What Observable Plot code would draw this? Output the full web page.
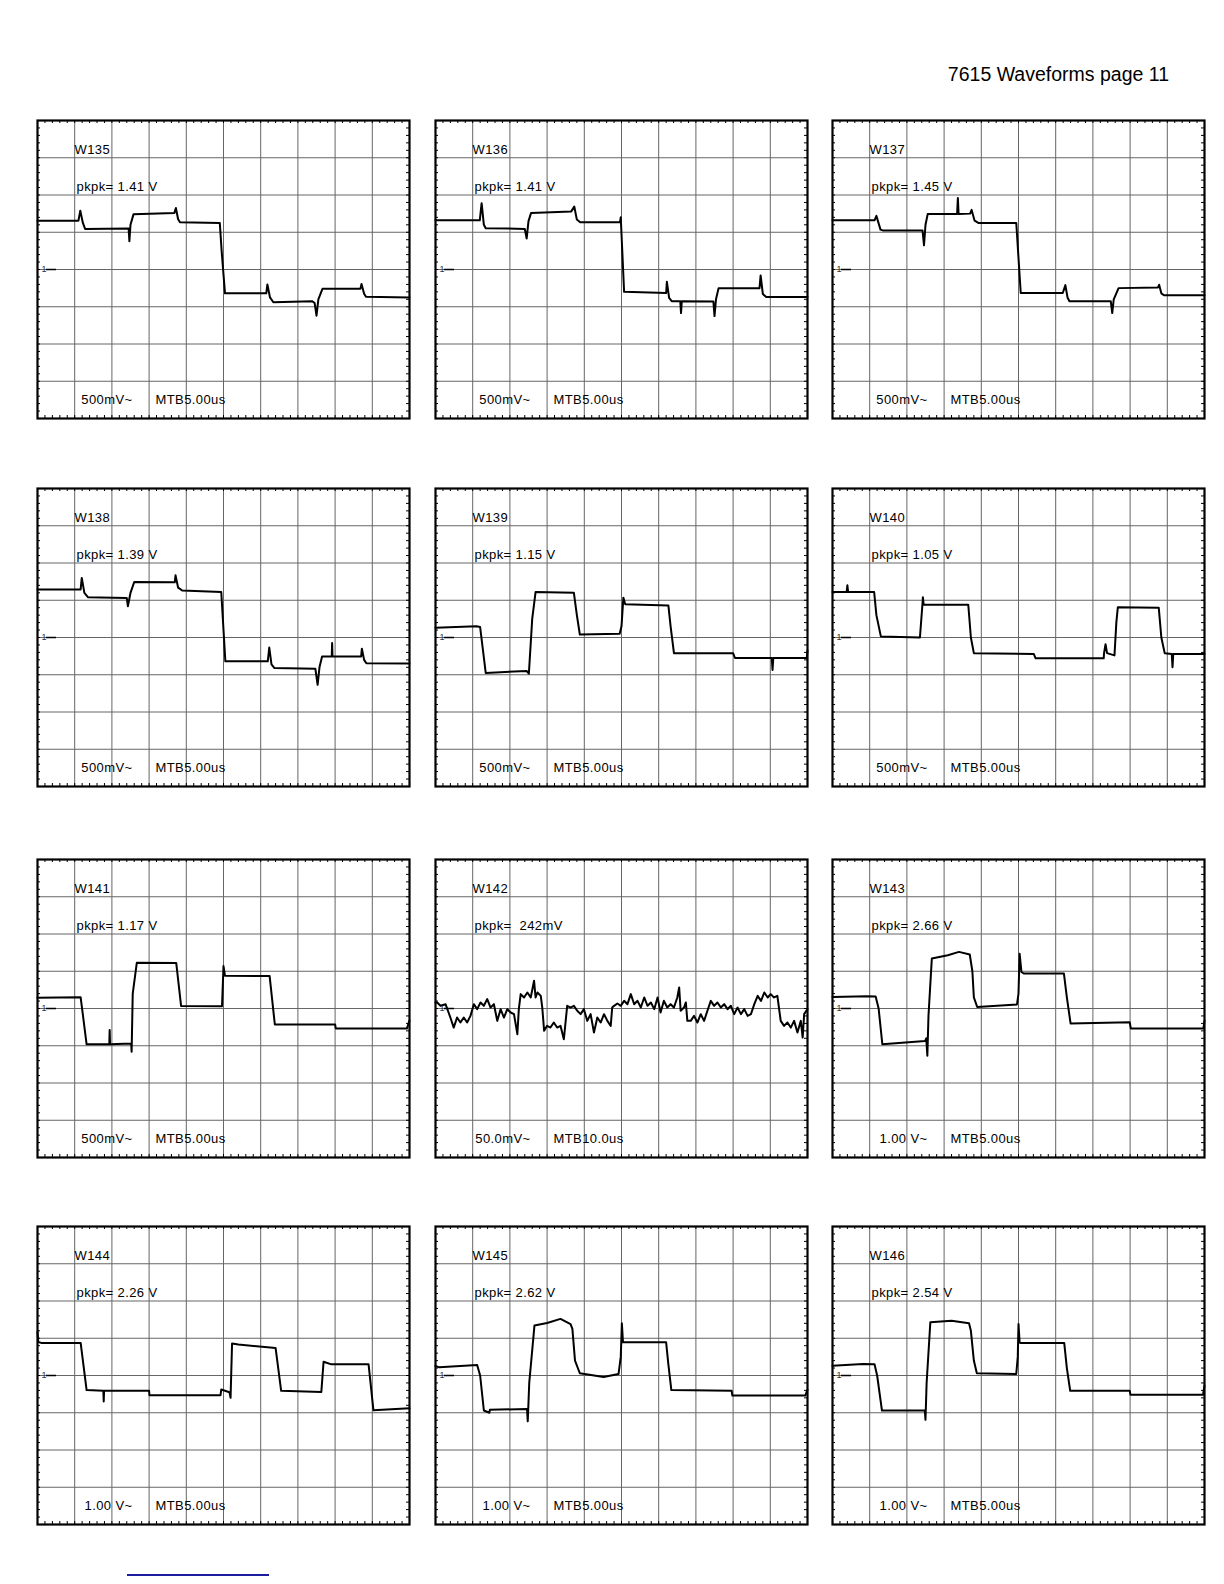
<!DOCTYPE html>
<html><head><meta charset="utf-8">
<script src="https://cdn.jsdelivr.net/npm/d3@7"></script>
<script src="https://cdn.jsdelivr.net/npm/@observablehq/plot@0.6"></script>
<style>
html,body{margin:0;padding:0;background:#fff;}
#page{position:relative;width:1224px;height:1584px;background:#fff;overflow:hidden;font-family:"Liberation Sans",Arial,sans-serif;}
#title{position:absolute;right:55px;top:65px;font-size:19.5px;line-height:19.5px;color:#000;white-space:nowrap;}
.panel{position:absolute;}
.panel text{letter-spacing:0.4px;}
#link{position:absolute;left:127px;top:1574px;width:142px;height:2px;background:#1c1ca0;}
</style></head>
<body><div id="page"><div id="title">7615 Waveforms page 11</div><div id="link"></div></div>
<script>
// ---- panel labels ----
const ids = ["W135","W136","W137","W138","W139","W140","W141","W142","W143","W144","W145","W146"];
const pkpk = ["1.41 V","1.41 V","1.45 V","1.39 V","1.15 V","1.05 V","1.17 V","\u00a0242mV","2.66 V","2.26 V","2.62 V","2.54 V"];
const scaleLabels = ["500mV~","500mV~","500mV~","500mV~","500mV~","500mV~","500mV~","50.0mV~","1.00 V~","1.00 V~","1.00 V~","1.00 V~"];
const timeLabels = ["MTB5.00us","MTB5.00us","MTB5.00us","MTB5.00us","MTB5.00us","MTB5.00us","MTB5.00us","MTB10.0us","MTB5.00us","MTB5.00us","MTB5.00us","MTB5.00us"];
// vertical sensitivity per division (V, except W142 in mV) and time per division (us)
const voltsPerDiv = [0.5,0.5,0.5,0.5,0.5,0.5,0.5,50,1,1,1,1];
const timePerDiv = [5,5,5,5,5,5,5,10,5,5,5,5];

// ---- traces: [time us, volts] ----
const w135 = [[0,0.655],[5.5,0.655],[5.75,0.79],[6.1,0.625],[6.4,0.545],[12.25,0.55],[12.35,0.38],[12.5,0.6],[12.9,0.74],[18.4,0.76],[18.6,0.825],[18.9,0.675],[19.15,0.635],[24.5,0.625],[24.75,0.25],[25.2,-0.32],[30.75,-0.32],[30.9,-0.2],[31.25,-0.375],[31.7,-0.44],[36.9,-0.425],[37.25,-0.45],[37.5,-0.62],[37.75,-0.4],[38.3,-0.26],[43.4,-0.26],[43.55,-0.195],[43.9,-0.325],[44.15,-0.365],[50,-0.375]];
const w136 = [[0,0.66],[5.95,0.66],[6.2,0.89],[6.5,0.6],[6.75,0.555],[12.0,0.545],[12.25,0.415],[12.5,0.65],[12.85,0.76],[18.25,0.78],[18.65,0.845],[19.0,0.67],[19.45,0.635],[24.8,0.635],[24.9,0.7],[25.35,-0.3],[31.0,-0.315],[31.1,-0.165],[31.4,-0.38],[31.75,-0.425],[32.9,-0.425],[33.0,-0.585],[33.1,-0.425],[37.35,-0.43],[37.5,-0.625],[37.7,-0.4],[38.05,-0.25],[43.55,-0.25],[43.7,-0.08],[44.0,-0.33],[44.45,-0.37],[50,-0.37]];
const w137 = [[0,0.66],[5.65,0.66],[5.9,0.72],[6.45,0.535],[6.75,0.525],[12.1,0.525],[12.3,0.325],[12.5,0.6],[12.8,0.745],[16.75,0.745],[16.85,0.96],[16.95,0.745],[18.5,0.75],[18.7,0.8],[19.1,0.655],[19.6,0.625],[24.7,0.625],[25.3,-0.315],[30.95,-0.315],[31.3,-0.21],[31.6,-0.38],[31.85,-0.425],[37.4,-0.425],[37.6,-0.585],[37.8,-0.4],[38.45,-0.25],[43.75,-0.24],[43.9,-0.205],[44.2,-0.32],[44.55,-0.345],[50,-0.345]];
const w138 = [[0,0.645],[5.8,0.645],[5.95,0.8],[6.3,0.6],[6.8,0.54],[12.0,0.53],[12.15,0.42],[12.5,0.6],[13.0,0.745],[18.45,0.74],[18.55,0.835],[18.9,0.67],[19.45,0.63],[24.7,0.61],[25.25,-0.32],[30.95,-0.32],[31.15,-0.135],[31.45,-0.36],[31.85,-0.41],[37.35,-0.42],[37.65,-0.635],[37.9,-0.4],[38.25,-0.255],[39.55,-0.255],[39.6,-0.075],[39.65,-0.255],[43.5,-0.255],[43.6,-0.15],[43.9,-0.3],[44.2,-0.345],[50,-0.35]];
const w139 = [[0,0.13],[5.5,0.15],[6.0,0.14],[6.75,-0.475],[12.25,-0.45],[12.55,-0.485],[13.0,0.25],[13.45,0.61],[18.6,0.6],[19.0,0.3],[19.4,0.04],[24.75,0.05],[25.0,0.15],[25.25,0.535],[25.5,0.445],[31.3,0.43],[31.6,0.15],[32.05,-0.21],[40.0,-0.21],[40.25,-0.275],[45.2,-0.275],[45.3,-0.435],[45.4,-0.275],[49.9,-0.275],[50,-0.175]];
const w140 = [[0,0.61],[1.9,0.61],[2.0,0.7],[2.1,0.61],[5.6,0.61],[5.9,0.3],[6.5,0.015],[11.75,0.0],[12.1,0.46],[12.15,0.54],[12.25,0.44],[18.25,0.44],[18.6,0.0],[19.0,-0.21],[27.05,-0.22],[27.3,-0.28],[36.45,-0.28],[36.5,-0.21],[36.7,-0.09],[36.9,-0.21],[37.9,-0.24],[38.15,0.2],[38.35,0.405],[43.85,0.4],[44.2,0.0],[44.65,-0.21],[45.6,-0.22],[45.7,-0.4],[45.8,-0.22],[50,-0.22]];
const w141 = [[0,0.145],[5.8,0.15],[6.6,-0.48],[9.65,-0.48],[9.7,-0.29],[9.75,-0.48],[12.6,-0.47],[12.65,-0.58],[12.8,0.2],[13.35,0.615],[18.65,0.61],[19.3,0.035],[24.8,0.03],[25.0,0.57],[25.2,0.44],[31.2,0.435],[31.9,-0.215],[40.0,-0.215],[40.1,-0.27],[49.65,-0.27],[50,-0.16]];
// W142 in [time us, mV]
const w142 = [[0,8.1],[0.45,8.1],[1.35,3.6],[2.7,5.8],[4.0,-12.1],[4.9,-25.6],[5.8,-12.1],[6.7,-18.8],[7.6,-12.1],[8.5,-18.8],[9.4,-9.9],[10.3,5.8],[11.2,-0.9],[12.1,8.1],[13.0,3.6],[13.9,12.6],[14.8,1.3],[15.7,5.8],[16.6,-16.6],[17.5,-0.9],[18.4,-12.1],[19.3,-0.9],[20.2,-5.4],[21.1,-7.6],[22.0,-34.5],[22.4,-0.9],[22.9,19.3],[23.8,14.8],[24.7,21.5],[25.6,14.8],[26.5,37.2],[26.9,14.8],[27.4,21.5],[28.3,17.0],[28.7,1.3],[29.2,-30.0],[30.0,-23.3],[30.9,-25.6],[31.8,-18.8],[32.7,-25.6],[33.6,-23.3],[34.5,-41.3],[35.0,-16.6],[35.4,3.6],[36.3,1.3],[37.2,3.6],[38.1,-3.1],[39.0,-7.6],[39.9,-0.9],[40.8,-16.6],[41.7,-7.6],[42.6,-32.3],[43.5,-12.1],[44.4,-18.8],[45.3,-7.6],[46.2,-16.6],[47.1,-23.3],[47.5,1.3],[48.0,3.6],[48.9,6.7],[49.8,3.6],[50.7,10.3],[51.6,5.8],[52.5,19.3],[53.4,5.8],[54.3,10.3],[55.2,1.3],[56.1,14.8],[57.0,3.6],[57.9,8.1],[58.8,-0.9],[59.7,14.8],[60.5,-5.4],[61.4,10.3],[62.3,1.3],[63.2,5.8],[64.1,1.3],[65.0,14.8],[65.5,28.3],[65.9,-3.1],[66.8,1.3],[67.3,8.1],[67.7,-16.6],[68.6,-16.6],[69.5,-9.9],[70.4,-18.8],[71.3,-7.6],[72.2,-16.6],[73.1,-3.1],[74.0,10.3],[74.9,3.6],[75.8,8.1],[76.7,1.3],[77.6,5.8],[78.5,-0.9],[79.4,3.6],[80.3,-7.6],[81.2,1.3],[82.1,-7.6],[83.0,-0.9],[83.9,-9.9],[84.8,-7.6],[85.7,5.8],[86.6,17.0],[87.5,10.3],[88.4,21.5],[89.3,14.8],[90.1,19.3],[91.0,14.8],[91.9,17.0],[92.8,-16.6],[93.7,-23.3],[94.6,-18.8],[95.5,-25.6],[96.4,-16.6],[97.3,-32.3],[98.2,-16.6],[98.7,-39.0],[99.1,-7.6],[100,-0.9]];
const w143 = [[0,0.31],[4.6,0.33],[5.8,0.32],[6.2,0.0],[6.7,-0.96],[12.45,-0.875],[12.6,-0.8],[12.75,-1.27],[12.9,-0.2],[13.35,1.34],[15.5,1.43],[17.0,1.52],[18.45,1.45],[18.8,1.0],[19.0,0.3],[19.45,0.04],[24.8,0.11],[25.0,0.4],[25.15,1.47],[25.4,0.98],[25.7,0.94],[31.1,0.94],[31.5,0.3],[32.0,-0.4],[39.95,-0.37],[40.1,-0.54],[49.85,-0.54],[50,-0.33]];
const w144 = [[0,1.17],[0.1,0.9],[0.5,0.875],[5.8,0.875],[6.6,-0.39],[8.85,-0.41],[8.9,-0.7],[8.95,-0.41],[15.0,-0.41],[15.05,-0.53],[24.6,-0.53],[24.7,-0.375],[25.8,-0.45],[25.95,-0.6],[26.15,0.86],[27.0,0.83],[32.0,0.74],[32.75,-0.41],[38.15,-0.44],[38.45,0.37],[39.5,0.3],[44.5,0.3],[45.15,-0.93],[50,-0.88]];
const w145 = [[0,0.26],[0.5,0.22],[5.6,0.28],[6.0,0.0],[6.5,-0.94],[7.25,-1.0],[7.3,-0.92],[12.3,-0.9],[12.4,-1.23],[12.6,-0.2],[13.3,1.34],[15.0,1.41],[16.8,1.52],[18.15,1.38],[18.4,1.25],[18.75,0.4],[19.4,0.06],[22.6,-0.04],[24.6,0.04],[24.9,0.5],[25.05,1.4],[25.2,0.89],[31.0,0.89],[31.3,0.3],[31.7,-0.39],[39.8,-0.41],[39.9,-0.54],[49.7,-0.54],[50,-0.38]];
const w146 = [[0,0.26],[4.1,0.31],[5.65,0.3],[6.0,0.0],[6.65,-0.94],[12.4,-0.94],[12.5,-1.19],[12.65,-0.2],[13.15,1.43],[16.0,1.47],[18.35,1.4],[18.6,1.2],[19.0,0.4],[19.4,0.06],[24.7,0.04],[24.9,0.5],[25.0,1.38],[25.15,0.89],[25.3,0.87],[31.15,0.87],[31.5,0.2],[31.95,-0.41],[39.95,-0.41],[40.05,-0.52],[49.8,-0.52],[50,-0.27]];

const traces = [w135,w136,w137,w138,w139,w140,w141,w142,w143,w144,w145,w146];

// ---- layout ----
const PW = 372, PH = 298, M = 4;
const colX = [37, 435, 832], rowY = [120, 488, 859, 1226];
const font = '"Liberation Sans", Arial, sans-serif';
const page = document.getElementById("page");

traces.forEach((data, i) => {
  const tb = timePerDiv[i], vd = voltsPerDiv[i];
  const majorX = d3.range(1, 10).map(k => k * tb);
  const majorY = d3.range(-3, 4).map(k => k * vd);
  const minorX = d3.range(1, 50).map(k => k * tb / 5);
  const minorY = d3.range(-19, 20).map(k => k * vd / 5);
  const tk = 3;
  const chart = Plot.plot({
    width: PW + 2 * M, height: PH + 2 * M, margin: M,
    x: {domain: [0, 10 * tb], axis: null},
    y: {domain: [-4 * vd, 4 * vd], axis: null},
    style: {background: "transparent", fontFamily: font, overflow: "visible"},
    marks: [
      Plot.ruleX(majorX, {stroke: "#666", strokeWidth: 1}),
      Plot.ruleY(majorY, {stroke: "#666", strokeWidth: 1}),
      Plot.ruleX(minorX, {insetBottom: PH - tk, stroke: "#000", strokeWidth: 1}),
      Plot.ruleX(minorX, {insetTop: PH - tk, stroke: "#000", strokeWidth: 1}),
      Plot.ruleY(minorY, {insetRight: PW - tk, stroke: "#000", strokeWidth: 1}),
      Plot.ruleY(minorY, {insetLeft: PW - tk, stroke: "#000", strokeWidth: 1}),
      Plot.ruleY([0], {insetLeft: 9, insetRight: PW - 19, stroke: "#000", strokeWidth: 1.5}),
      Plot.text(["1"], {text: d => d, frameAnchor: "left", dx: 4, fontSize: 9, fill: "#333"}),
      Plot.line(data, {x: d => d[0], y: d => d[1], stroke: "#000", strokeWidth: 2, strokeLinejoin: "round"}),
      Plot.frame({stroke: "#000", strokeWidth: 2.2}),
      Plot.text([ids[i]], {text: d => d, frameAnchor: "top-left", dx: 37, dy: 33, lineAnchor: "bottom", fontSize: 13, fill: "#000"}),
      Plot.text([pkpk[i]], {text: d => "pkpk= " + d, frameAnchor: "top-left", dx: 39, dy: 70, lineAnchor: "bottom", fontSize: 13, fill: "#000"}),
      Plot.text([scaleLabels[i]], {text: d => d, frameAnchor: "top-left", textAnchor: "end", dx: 95, dy: 283, lineAnchor: "bottom", fontSize: 13, fill: "#000"}),
      Plot.text([timeLabels[i]], {text: d => d, frameAnchor: "top-left", dx: 118, dy: 283, lineAnchor: "bottom", fontSize: 13, fill: "#000"})
    ]
  });
  const div = document.createElement("div");
  div.className = "panel";
  div.style.left = (colX[i % 3] - M) + "px";
  div.style.top = (rowY[Math.floor(i / 3)] - M) + "px";
  div.appendChild(chart);
  page.appendChild(div);
});
</script></body></html>
